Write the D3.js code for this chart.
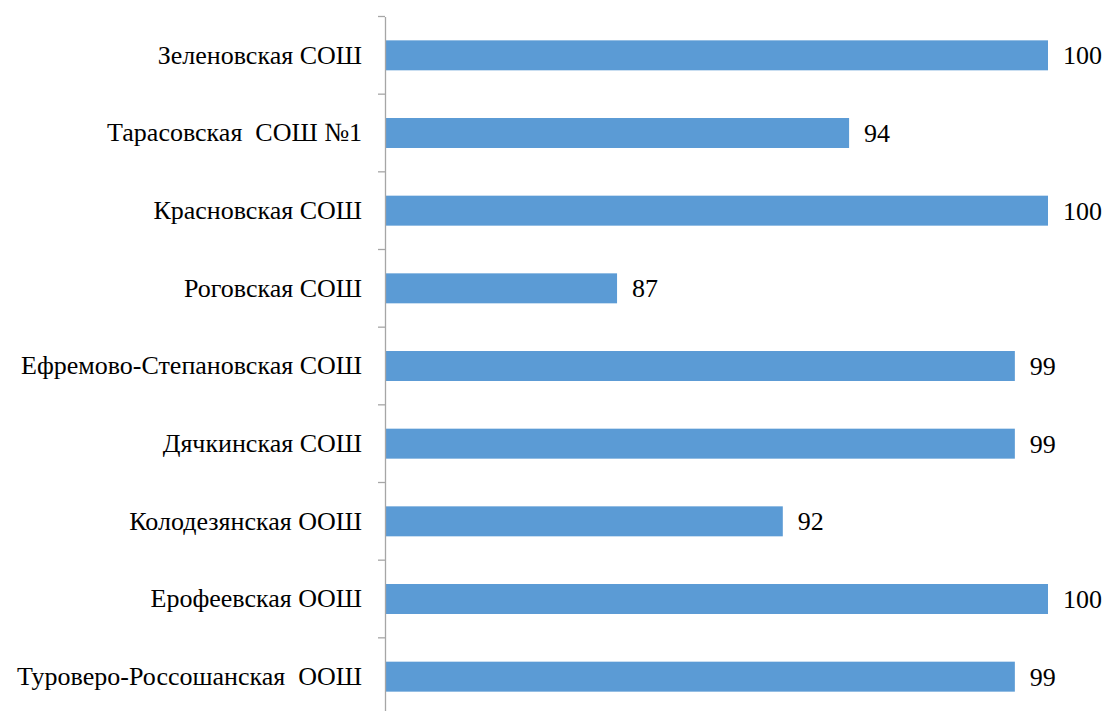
<!DOCTYPE html>
<html>
<head>
<meta charset="utf-8">
<script src="https://cdn.jsdelivr.net/npm/d3@7"></script>
<style>
  html, body { margin: 0; padding: 0; background: #fff; }
  svg { display: block; }
  svg text { font-family: 'Liberation Serif', 'Times New Roman', 'DejaVu Serif', serif !important; fill: #000; }
</style>
</head>
<body>
<svg id="chart" width="1107" height="711"></svg>
<script>
const schools = [
  "Зеленовская СОШ",
  "Тарасовская  СОШ №1",
  "Красновская СОШ",
  "Роговская СОШ",
  "Ефремово-Степановская СОШ",
  "Дячкинская СОШ",
  "Колодезянская ООШ",
  "Ерофеевская ООШ",
  "Туроверо-Россошанская  ООШ"
];
const scores = [100, 94, 100, 87, 99, 99, 92, 100, 99];
const xDomain = [80, 100];

const data = schools.map((name, i) => ({ name, value: scores[i] }));

const svg = d3.select("#chart");
const plotLeft = 385, plotRight = 1048, plotTop = 16.5, plotBottom = 715.5;
const fontSize = 26;

const x = d3.scaleLinear().domain(xDomain).range([plotLeft, plotRight]);
const y = d3.scaleBand()
  .domain(schools)
  .range([plotTop, plotBottom])
  .paddingInner(0.614)
  .paddingOuter(0.307);

// bars
svg.append("g")
  .selectAll("rect")
  .data(data)
  .join("rect")
  .attr("x", x(xDomain[0]) + 1)
  .attr("y", d => y(d.name))
  .attr("width", d => x(d.value) - x(xDomain[0]) - 1)
  .attr("height", y.bandwidth())
  .attr("fill", "#5b9bd5");

// category axis: labels at band centers, ticks at band boundaries
const axis = svg.append("g")
  .attr("transform", `translate(${plotLeft},0)`)
  .call(d3.axisLeft(y).tickSize(0).tickPadding(23).tickSizeOuter(0))
  .attr("font-family", null)
  .attr("font-size", null);
axis.select(".domain").attr("stroke", "#a6a6a6").attr("stroke-width", 1.3);
axis.selectAll(".tick text")
  .attr("font-size", fontSize)
  .attr("fill", "#000")
  .style("white-space", "pre");

const step = y.step();
const bounds = d3.range(schools.length + 1).map(i => y(schools[0]) - y.paddingOuter() * step + i * step);
svg.append("g")
  .selectAll("line")
  .data(bounds)
  .join("line")
  .attr("x1", plotLeft - 7)
  .attr("x2", plotLeft)
  .attr("y1", d => d)
  .attr("y2", d => d)
  .attr("stroke", "#a6a6a6")
  .attr("stroke-width", 1.3);

// value labels
svg.append("g")
  .selectAll("text")
  .data(data)
  .join("text")
  .attr("x", d => x(d.value) + 15)
  .attr("y", d => y(d.name) + y.bandwidth() / 2)
  .attr("dy", "0.35em")
  .attr("font-size", fontSize)
  .text(d => d.value);
</script>
</body>
</html>
